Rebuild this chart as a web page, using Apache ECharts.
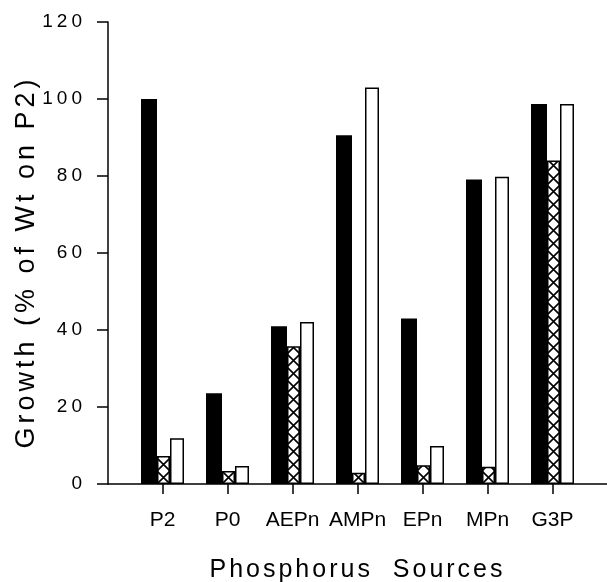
<!DOCTYPE html>
<html>
<head>
<meta charset="utf-8">
<script src="https://cdn.jsdelivr.net/npm/echarts@6/dist/echarts.min.js"></script>
<style>
  html, body { margin: 0; padding: 0; background: #fff; }
  #chart { width: 607px; height: 582px; }
</style>
</head>
<body>
<div id="chart"></div>
<script>
const categories = ['P2', 'P0', 'AEPn', 'AMPn', 'EPn', 'MPn', 'G3P'];
const solidValues = [100, 23.6, 41, 90.6, 43, 79.1, 98.7];
const hatchedValues = [7.3, 3.4, 35.8, 2.9, 4.9, 4.5, 84];
const openValues = [11.9, 4.7, 42.1, 103, 9.9, 79.8, 98.7];
const yTicks = [0, 20, 40, 60, 80, 100, 120];

const SOLID_W = 16;
const HATCH_W = 13;
const OPEN_W = 14;
const CELL = 13;

// cross-hatch tile
function makeHatch() {
  const c = document.createElement('canvas');
  c.width = CELL;
  c.height = CELL;
  const ctx = c.getContext('2d');
  ctx.fillStyle = '#fff';
  ctx.fillRect(0, 0, CELL, CELL);
  ctx.strokeStyle = '#000';
  ctx.lineWidth = 1.6;
  ctx.beginPath();
  ctx.moveTo(0, 0); ctx.lineTo(CELL, CELL);
  ctx.moveTo(CELL, 0); ctx.lineTo(0, CELL);
  ctx.stroke();
  return c;
}
const hatchTile = makeHatch();

const chart = echarts.init(document.getElementById('chart'));
// y axis and x title sit on their own layers so their text can be spaced out like the original
const painter = chart.getZr().painter;
if (painter.getLayer) {
  const yLayer = painter.getLayer(1);
  if (yLayer && yLayer.ctx) yLayer.ctx.letterSpacing = '4px';
  const titleLayer = painter.getLayer(2);
  if (titleLayer && titleLayer.ctx) titleLayer.ctx.letterSpacing = '3px';
}

const font = 'Liberation Sans, Arial, sans-serif';

const option = {
  backgroundColor: '#fff',
  animation: false,
  grid: [
    { left: 130, right: 22, top: 22, bottom: 98, outerBoundsMode: 'none' },
    { left: 108, right: 0, top: 22, bottom: 98, outerBoundsMode: 'none' }
  ],
  xAxis: [
    {
      type: 'category',
      gridIndex: 0,
      data: categories,
      axisLine: { show: false },
      axisTick: { show: true, alignWithLabel: true, length: 10, lineStyle: { color: '#000', width: 1.5 } },
      axisLabel: { color: '#000', fontSize: 21, fontFamily: font, margin: 26, interval: 0 }
    },
    {
      type: 'value',
      gridIndex: 1,
      zlevel: 2,
      min: 0,
      max: 1,
      name: 'Phosphorus  Sources',
      nameLocation: 'middle',
      nameGap: 74,
      nameTextStyle: { color: '#000', fontSize: 25, fontFamily: font },
      axisLine: { show: true, lineStyle: { color: '#000', width: 1.5 } },
      axisTick: { show: false },
      axisLabel: { show: false },
      splitLine: { show: false }
    }
  ],
  yAxis: [
    {
      type: 'value',
      gridIndex: 0,
      zlevel: 1,
      min: yTicks[0],
      max: yTicks[yTicks.length - 1],
      interval: 20,
      offset: 22,
      name: 'Growth (% of Wt on P2)',
      nameLocation: 'middle',
      nameGap: 68,
      nameTextStyle: { color: '#000', fontSize: 27, fontFamily: font, padding: [0, 18, 0, 0] },
      axisLine: { show: true, lineStyle: { color: '#000', width: 1.5 } },
      axisTick: { show: true, length: 11, lineStyle: { color: '#000', width: 1.5 } },
      axisLabel: { color: '#000', fontSize: 19, fontFamily: font, margin: 22 },
      splitLine: { show: false }
    },
    { type: 'value', gridIndex: 1, show: false }
  ],
  series: [
    {
      type: 'bar',
      data: solidValues,
      barWidth: SOLID_W,
      barGap: '0%',
      itemStyle: { color: '#000' }
    },
    {
      type: 'bar',
      data: hatchedValues,
      barWidth: HATCH_W,
      barGap: '0%',
      itemStyle: {
        color: { image: hatchTile, repeat: 'repeat' },
        borderColor: '#000',
        borderWidth: 1.5
      }
    },
    {
      type: 'bar',
      data: openValues,
      barWidth: OPEN_W,
      barGap: '0%',
      itemStyle: { color: '#fff', borderColor: '#000', borderWidth: 1.5 }
    }
  ]
};

chart.setOption(option);

// line the X tiles up with each hatched bar's left edge and base
const base = chart.convertToPixel({ yAxisIndex: 0 }, 0);
const groupW = SOLID_W + HATCH_W + OPEN_W;
chart.setOption({
  series: [{}, {
    data: hatchedValues.map((v, i) => {
      const cx = chart.convertToPixel({ xAxisIndex: 0 }, i);
      return {
        value: v,
        itemStyle: {
          color: {
            image: hatchTile,
            repeat: 'repeat',
            x: cx - groupW / 2 + SOLID_W,
            y: base
          }
        }
      };
    })
  }, {}]
});

window.addEventListener('resize', () => chart.resize());
</script>
</body>
</html>
